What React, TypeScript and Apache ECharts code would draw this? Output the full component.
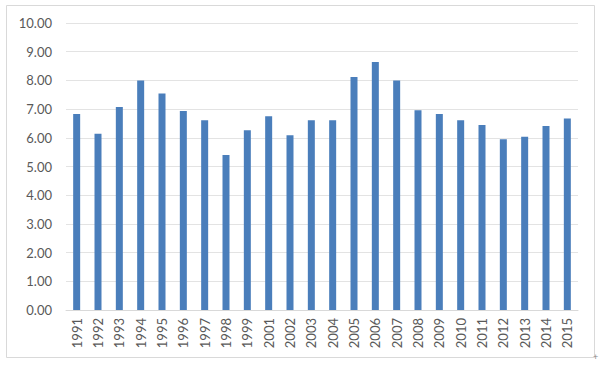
import React, { useEffect, useRef } from "react";
import * as echarts from "echarts";

const years = ["1991","1992","1993","1994","1995","1996","1997","1998","1999","2001","2002","2003","2004","2005","2006","2007","2008","2009","2010","2011","2012","2013","2014","2015"];
const values = [6.83, 6.14, 7.07, 8.0, 7.54, 6.93, 6.61, 5.4, 6.26, 6.75, 6.09, 6.61, 6.61, 8.12, 8.64, 8.0, 6.96, 6.83, 6.61, 6.45, 5.95, 6.04, 6.41, 6.67];

export default function App() {
  const ref = useRef<HTMLDivElement>(null);
  useEffect(() => {
    if (!ref.current) return;
    const chart = echarts.init(ref.current, undefined, { renderer: "svg" });
    chart.setOption({
      animation: false,
      backgroundColor: "#ffffff",
      textStyle: { fontFamily: "Lato, 'Open Sans', sans-serif" },
      graphic: [
        {
          type: "rect",
          shape: { x: 6.5, y: 5.5, width: 588, height: 352 },
          style: { fill: "none", stroke: "#d9d9d9", lineWidth: 1 },
          silent: true,
        },
        {
          type: "text",
          x: 593,
          y: 352,
          style: { text: "+", fill: "#888", fontSize: 9 },
          silent: true,
        },
      ],
      grid: { left: 66, right: 22, top: 23, bottom: 55, containLabel: false },
      xAxis: {
        type: "category",
        data: years,
        axisLine: { show: true, lineStyle: { color: "#d9d9d9", width: 1 } },
        axisTick: { show: false },
        axisLabel: {
          rotate: 90,
          color: "#595959",
          fontSize: 13,
          margin: 8,
          interval: 0,
        },
      },
      yAxis: {
        type: "value",
        min: 0,
        max: 10,
        interval: 1,
        axisLine: { show: false },
        axisTick: { show: false },
        splitLine: { lineStyle: { color: "#e3e3e3", width: 1 } },
        axisLabel: {
          color: "#595959",
          fontSize: 13,
          margin: 14,
          formatter: (v: number) => v.toFixed(2),
        },
      },
      series: [
        {
          type: "bar",
          data: values,
          barWidth: 7,
          itemStyle: { color: "#4a7ebb" },
        },
      ],
    });
    return () => chart.dispose();
  }, []);
  return (
    <div
      ref={ref}
      style={{ position: "fixed", left: 0, top: 0, width: 600, height: 365 }}
    />
  );
}
